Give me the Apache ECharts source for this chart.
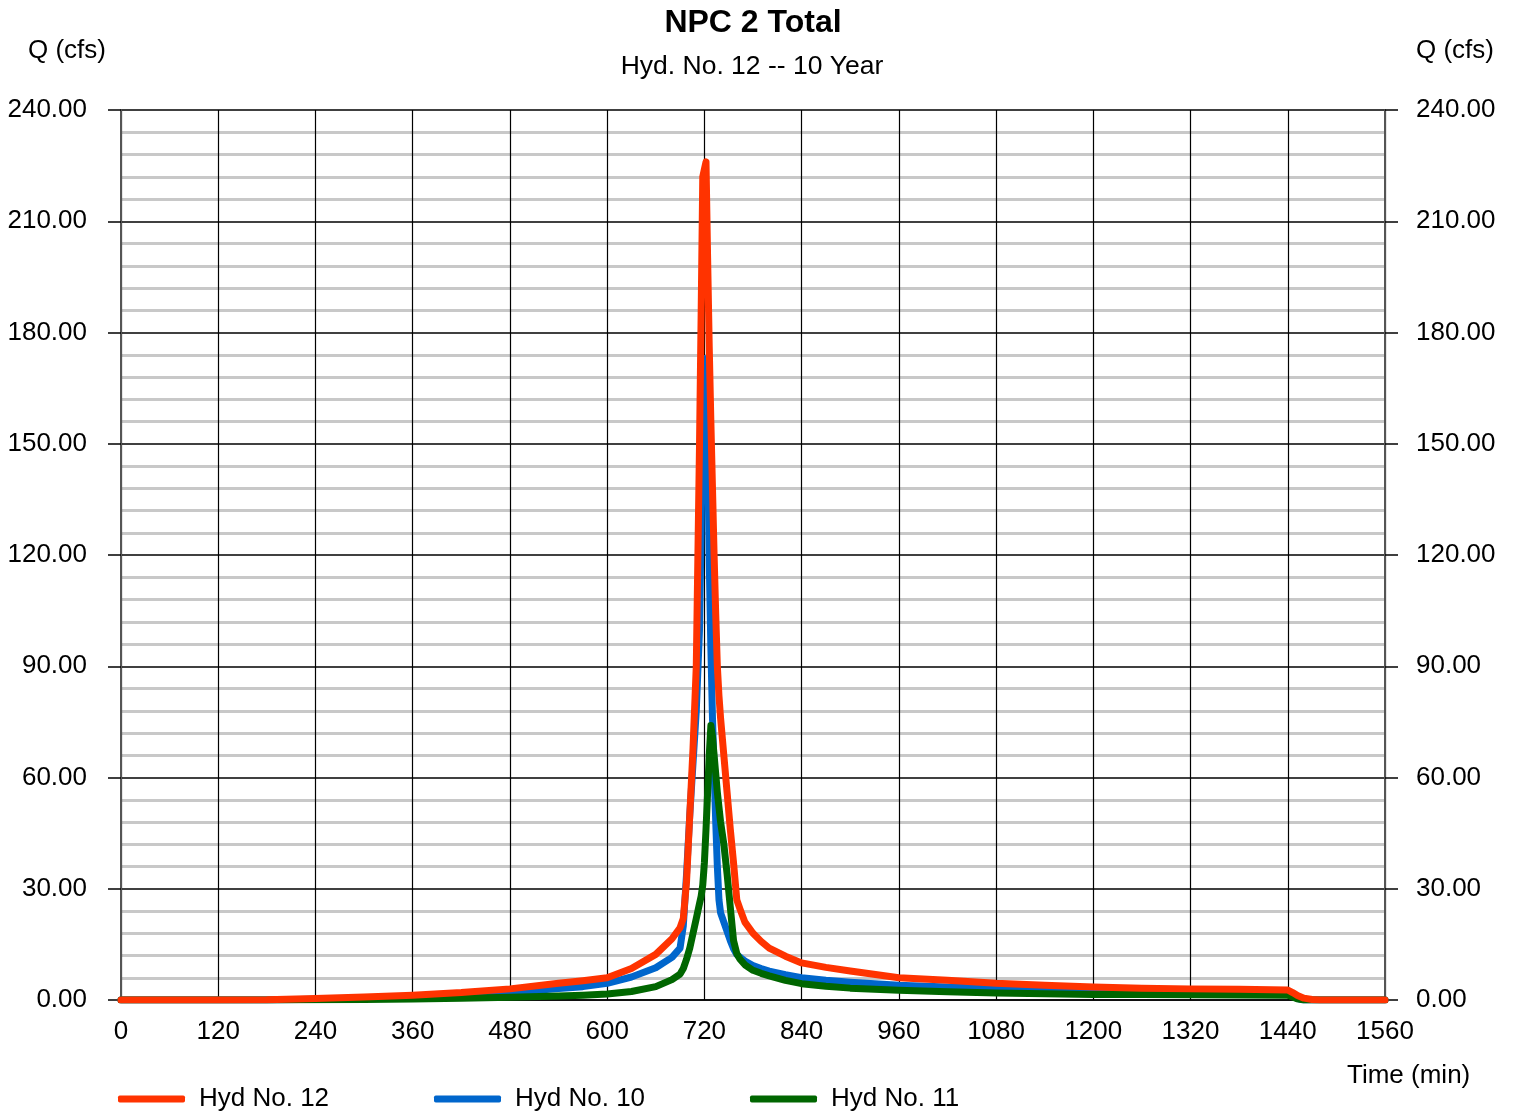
<!DOCTYPE html>
<html>
<head>
<meta charset="utf-8">
<title>NPC 2 Total</title>
<script src="https://cdn.jsdelivr.net/npm/echarts@6/dist/echarts.min.js"></script>
<style>
  html, body { margin: 0; padding: 0; background: #fff; }
  #chart { width: 1515px; height: 1112px; }
</style>
</head>
<body>
<div id="chart"></div>
<script>
// Hydrograph ordinates, time in minutes, flow in cfs
const times = [0, 60, 120, 180, 240, 300, 360, 420, 480, 540, 570, 600, 630, 660, 680, 690, 694, 698, 702, 706,
  710, 714, 716, 718, 720, 722, 724, 726, 728, 730, 732, 734, 736, 738, 740, 744, 748, 752, 756, 760,
  764, 770, 780, 790, 800, 820, 840, 870, 900, 960, 1020, 1080, 1140, 1200, 1260, 1320, 1380, 1440, 1446, 1452,
  1460, 1470, 1480, 1560];

const hyd12 = [0, 0, 0, 0.05, 0.4, 0.8, 1.3, 2.0, 3.0, 4.5, 5.2, 6.0, 8.5, 12.3, 16.5, 19.5, 22, 32, 50, 68,
  90, 150, 185, 222, 224, 226, 200, 176, 156, 138, 120, 104, 90, 82, 76, 66, 56, 46, 37, 27,
  24.5, 21, 18, 15.8, 14, 11.8, 10, 8.8, 7.8, 6.0, 5.3, 4.5, 4.0, 3.5, 3.2, 3.0, 2.9, 2.7, 2.0, 1.2,
  0.5, 0.15, 0, 0];

const hyd10 = [0, 0, 0, 0, 0.2, 0.5, 0.9, 1.4, 2.0, 3.1, 3.6, 4.5, 6.2, 8.7, 11.5, 14, 20, 34, 50, 64,
  78, 100, 128, 160, 173, 170, 150, 118, 95, 76, 62, 48, 36, 27, 23.5, 21, 18.5, 16, 13.8, 12.3,
  11.5, 10.5, 9.3, 8.5, 7.8, 6.8, 6.0, 5.3, 4.8, 4.0, 3.5, 3.2, 2.9, 2.6, 2.4, 2.2, 2.0, 1.9, 1.2, 0.4,
  0, 0, 0, 0];

const hyd11 = [0, 0, 0, 0, 0.05, 0.15, 0.3, 0.5, 0.75, 1.1, 1.3, 1.6, 2.3, 3.6, 5.5, 7, 8.5, 11, 14, 18,
  22, 26, 28, 31, 37, 46, 56, 66, 74, 71, 66, 61, 56, 52, 48, 42, 34, 25, 16, 12.5,
  11, 9.5, 8, 7.2, 6.5, 5.3, 4.4, 3.7, 3.2, 2.6, 2.2, 1.9, 1.7, 1.5, 1.45, 1.4, 1.35, 1.3, 0.8, 0.3,
  0, 0, 0, 0];

const seriesNames = ['Hyd No. 12', 'Hyd No. 10', 'Hyd No. 11'];
const seriesColors = ['#ff3300', '#0066cc', '#006600'];

const FONT = "'Liberation Sans', Arial, sans-serif";

function pairs(vals) {
  return times.map((t, i) => [t, vals[i]]);
}

const yAxisBase = {
  type: 'value',
  min: 0,
  max: 240,
  interval: 30,
  axisLabel: {
    formatter: v => v.toFixed(2),
    fontSize: 26,
    fontFamily: FONT,
    color: '#000',
    margin: 34,
    lineHeight: 30,
    padding: [5, 0, 0, 0]
  },
  axisTick: { show: true, inside: false, length: 13, lineStyle: { color: '#000', width: 1.5 } },
  axisLine: { show: true, onZero: false, lineStyle: { color: '#555', width: 2 } }
};

const chart = echarts.init(document.getElementById('chart'), null, { renderer: 'canvas' });

chart.setOption({
  backgroundColor: '#fff',
  animation: false,
  legend: seriesNames.map((name, i) => ({
    data: [name],
    left: [118, 434, 750][i],
    top: 1084,
    padding: 0,
    icon: 'roundRect',
    itemWidth: 67,
    itemHeight: 7,
    textStyle: { fontSize: 26, fontFamily: FONT, color: '#000', lineHeight: 30, padding: [0, 0, 0, 9] }
  })),
  grid: { left: 121, right: 130, top: 110, bottom: 112, containLabel: false },
  xAxis: {
    type: 'value',
    min: 0,
    max: 1560,
    interval: 120,
    axisLabel: { fontSize: 26, fontFamily: FONT, color: '#000', margin: 19, formatter: v => String(v) },
    axisTick: { show: false },
    axisLine: { show: true, onZero: false, lineStyle: { color: '#000', width: 1.5 } },
    splitLine: { show: true, lineStyle: { color: '#000', width: 1.2 } }
  },
  yAxis: [
    Object.assign({}, yAxisBase, {
      position: 'left',
      splitLine: { show: true, lineStyle: { color: '#000', width: 1.5 } },
      minorTick: { show: false, splitNumber: 5 },
      minorSplitLine: { show: true, lineStyle: { color: '#c8c8c8', width: 3 } }
    }),
    Object.assign({}, yAxisBase, {
      position: 'right',
      axisLabel: Object.assign({}, yAxisBase.axisLabel, { margin: 31 }),
      splitLine: { show: false }
    })
  ],
  graphic: [
    { type: 'text', x: 753, y: 23, style: { text: 'NPC 2 Total', fontSize: 32, fontWeight: 'bold', fontFamily: FONT, fill: '#000', align: 'center', verticalAlign: 'middle' } },
    { type: 'text', x: 752, y: 67, style: { text: 'Hyd. No. 12 -- 10 Year', fontSize: 26.5, fontFamily: FONT, fill: '#000', align: 'center', verticalAlign: 'middle' } },
    { type: 'text', x: 28, y: 51, style: { text: 'Q (cfs)', fontSize: 26, fontFamily: FONT, fill: '#000', verticalAlign: 'middle' } },
    { type: 'text', x: 1416, y: 51, style: { text: 'Q (cfs)', fontSize: 26, fontFamily: FONT, fill: '#000', verticalAlign: 'middle' } },
    { type: 'text', x: 1347, y: 1076, style: { text: 'Time (min)', fontSize: 26, fontFamily: FONT, fill: '#000', verticalAlign: 'middle' } }
  ],
  series: [
    // drawn back to front: Hyd No. 10, Hyd No. 11, Hyd No. 12 on top
    { name: seriesNames[1], values: hyd10, color: seriesColors[1], z: 3 },
    { name: seriesNames[2], values: hyd11, color: seriesColors[2], z: 4 },
    { name: seriesNames[0], values: hyd12, color: seriesColors[0], z: 5 }
  ].map(s => ({
    name: s.name,
    type: 'line',
    data: pairs(s.values),
    symbol: 'none',
    showSymbol: false,
    smooth: false,
    z: s.z,
    color: s.color,
    lineStyle: { color: s.color, width: 7, cap: 'round', join: 'round' },
    itemStyle: { color: s.color },
    emphasis: { disabled: true }
  }))
});
</script>
</body>
</html>
